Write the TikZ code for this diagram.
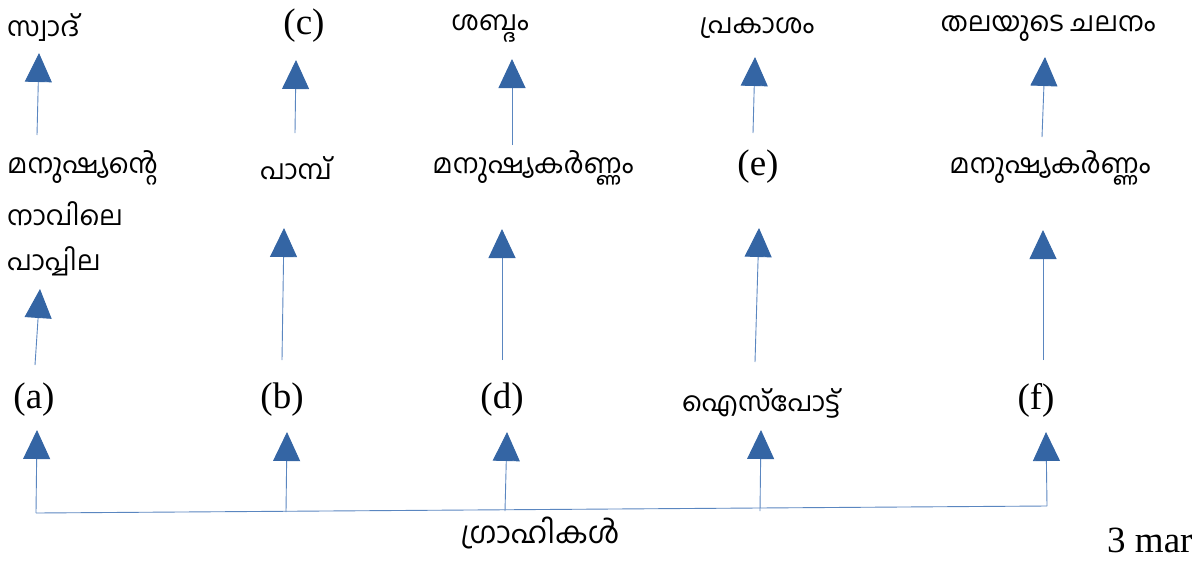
\documentclass[tikz,border=0pt]{standalone}
\usepackage{fontspec}
\setmainfont{Liberation Serif}
\newfontfamily\ml[Script=Malayalam]{Hind Kochi}
\usetikzlibrary{arrows.meta}
\definecolor{arrowblue}{HTML}{3465A4}
\definecolor{lineblue}{HTML}{5A86C0}
\tikzset{
  mltext/.style={font=\ml\fontsize{27}{32}\selectfont, inner sep=0pt, anchor=center},
  lattext/.style={font=\fontsize{37}{42}\selectfont, inner sep=0pt, anchor=center},
  uparrow/.style={draw=lineblue, line width=0.9pt, -{Triangle[width=27pt,length=29pt,fill=arrowblue,color=arrowblue]}},
  baseline/.style={draw=lineblue, line width=0.9pt}
}
\begin{document}
\begin{tikzpicture}[x=1pt,y=-1pt]
\useasboundingbox (0,0) rectangle (1193,560);
% top row
\node[mltext, anchor=west] (t1) at (7,28) {സ്വാദ്};
\node[lattext] (t2) at (304,26) {(c)};
\node[mltext] (t3) at (490,28) {ശബ്ദം};
\node[mltext] (t4) at (757,28) {പ്രകാശം};
\node[mltext] (t5) at (1048,28) {തലയുടെ ചലനം};
% middle row
\node[mltext, anchor=west] (m1a) at (7,168) {മനുഷ്യന്റെ};
\node[mltext, anchor=west] (m1b) at (7,214) {നാവിലെ};
\node[mltext, anchor=west] (m1c) at (7,261) {പാപ്പില};
\node[mltext] (m2) at (296,168) {പാമ്പ്};
\node[mltext] (m3) at (533,168) {മനുഷ്യകർണ്ണം};
\node[lattext] (m4) at (758,167) {(e)};
\node[mltext] (m5) at (1050,168) {മനുഷ്യകർണ്ണം};
% lower row
\node[lattext] (b1) at (34,400) {(a)};
\node[lattext] (b2) at (282,400) {(b)};
\node[lattext] (b3) at (502,400) {(d)};
\node[mltext] (b4) at (761,403) {ഐസ്പോട്ട്};
\node[lattext] (b5) at (1036,400) {(f)};
% bottom
\node[mltext, font=\ml\fontsize{30}{36}\selectfont] (g) at (540,533) {ഗ്രാഹികൾ};
\node[lattext, anchor=west] (mk) at (1107,540) {3 mar};
% arrow coordinates
\coordinate (u1s) at (37,135); \coordinate (u1e) at (39,53);
\coordinate (u2s) at (295,133); \coordinate (u2e) at (296,60);
\coordinate (u3s) at (512,145); \coordinate (u3e) at (512,59);
\coordinate (u4s) at (753,133); \coordinate (u4e) at (755,57);
\coordinate (u5s) at (1042,137); \coordinate (u5e) at (1045,57);
\coordinate (v1s) at (35,365); \coordinate (v1e) at (40,289);
\coordinate (v2s) at (282,360); \coordinate (v2e) at (284,228);
\coordinate (v3s) at (502,360); \coordinate (v3e) at (502,229);
\coordinate (v4s) at (755,362); \coordinate (v4e) at (759,228);
\coordinate (v5s) at (1043,360); \coordinate (v5e) at (1043,230);
\coordinate (w1s) at (36,513); \coordinate (w1e) at (37,430);
\coordinate (w2s) at (286,512); \coordinate (w2e) at (287,432);
\coordinate (w3s) at (505,511); \coordinate (w3e) at (507,432);
\coordinate (w4s) at (760,511); \coordinate (w4e) at (761,430);
\coordinate (w5s) at (1047,506); \coordinate (w5e) at (1046,432);
% arrows
\foreach \r in {u,v,w}{
  \foreach \i in {1,...,5}{
    \draw[uparrow] (\r\i s) -- (\r\i e);
  }
}
\draw[baseline] (w1s) -- (w5s);
\end{tikzpicture}
\end{document}
